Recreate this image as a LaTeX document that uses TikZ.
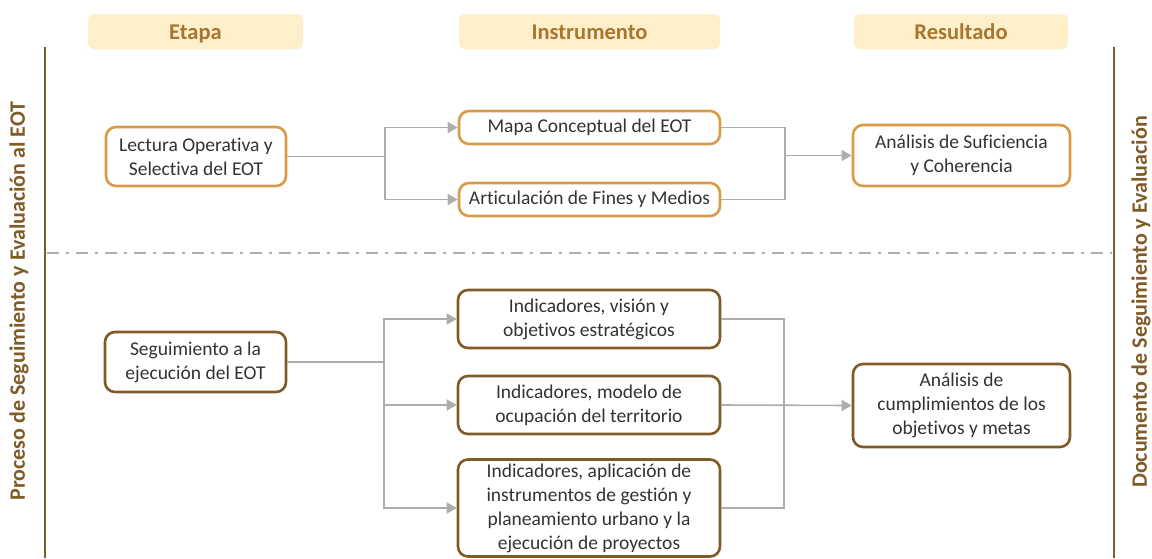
\documentclass[tikz,border=0pt]{standalone}
\usepackage{fontspec}
\setmainfont{Carlito}[Ligatures=NoCommon]
\usetikzlibrary{arrows.meta}
\definecolor{hdrfill}{HTML}{FCEFC9}
\definecolor{hdrtext}{HTML}{A8762E}
\definecolor{orangeb}{HTML}{D99B48}
\definecolor{brownb}{HTML}{7F5B27}
\definecolor{linegray}{HTML}{ADADAD}
\definecolor{txt}{HTML}{333333}
\tikzset{
  hdr/.style={fill=hdrfill, rounded corners=6pt, text=hdrtext, font=\fontsize{22.5}{26}\selectfont\bfseries, inner sep=0pt, minimum height=35pt, text height=17pt, text depth=2pt},
  obox/.style={draw=orangeb, line width=2.6pt, rounded corners=10pt, fill=white, text=txt, align=center, font=\fontsize{19.5}{24}\selectfont, inner sep=0pt},
  bbox/.style={obox, draw=brownb},
  conn/.style={draw=linegray, line width=1.6pt},
  arr/.style={conn, -{Triangle[length=10pt,width=11pt]}},
  side/.style={text=brownb, font=\fontsize{22}{26}\selectfont\bfseries},
  sep/.style={draw=linegray, line width=2.4pt, dash pattern=on 12pt off 7pt on 3pt off 7pt}
}
\begin{document}
\begin{tikzpicture}[x=1pt,y=-1pt]
\useasboundingbox (0,0) rectangle (1152,558);
% headers
\node[hdr, minimum width=215pt] (h1) at (195.5,31.5) {Etapa};
\node[hdr, minimum width=261pt] (h2) at (589.5,31.5) {Instrumento};
\node[hdr, minimum width=214pt] (h3) at (961,31.5) {Resultado};
% side lines
\coordinate (lt) at (45,47); \coordinate (lb) at (45,558);
\coordinate (rt) at (1114,47); \coordinate (rb) at (1114,558);
\draw[brownb, line width=1.6pt] (lt) -- (lb);
\draw[brownb, line width=1.6pt] (rt) -- (rb);
\node[side, rotate=90] (pl) at (19,301) {Proceso de Seguimiento y Evaluación al EOT};
\node[side, rotate=90] (pr) at (1141,302) {Documento de Seguimiento y Evaluación};
% separator
\coordinate (s1) at (47,253); \coordinate (s2) at (1112,253);
\draw[sep] (s1) -- (s2);
% top section
\node[obox, minimum width=180pt, minimum height=59pt] (lect) at (196,156.5) {Lectura Operativa y\\Selectiva del EOT};
\node[obox, minimum width=261pt, minimum height=33pt] (mapa) at (589.5,127.5) {Mapa Conceptual del EOT};
\node[obox, minimum width=261pt, minimum height=33pt] (arti) at (589.5,199.5) {Articulación de Fines y Medios};
\node[obox, minimum width=217pt, minimum height=61pt] (ansc) at (961.5,155.5) {Análisis de Suficiencia\\y Coherencia};
\coordinate (j1) at (385,156.5);
\coordinate (j2) at (785,155.5);
\draw[conn] (lect.east) -- (j1);
\draw[arr] (j1) |- (mapa.west);
\draw[arr] (j1) |- (arti.west);
\draw[conn] (mapa.east) -| (j2);
\draw[conn] (arti.east) -| (j2);
\draw[arr] (j2) -- (ansc.west);
% bottom section
\node[bbox, minimum width=181pt, minimum height=60pt] (segu) at (195.5,362) {Seguimiento a la\\ejecución del EOT};
\node[bbox, minimum width=262pt, minimum height=58pt] (indv) at (589,319) {Indicadores, visión y\\objetivos estratégicos};
\node[bbox, minimum width=262pt, minimum height=58pt] (indm) at (589,405) {Indicadores, modelo de\\ocupación del territorio};
\node[bbox, minimum width=262pt, minimum height=97pt] (inda) at (589,508) {Indicadores, aplicación de\\instrumentos de gestión y\\planeamiento urbano y la\\ejecución de proyectos};
\node[bbox, minimum width=217pt, minimum height=83pt] (ancu) at (961.5,405.5) {Análisis de\\cumplimientos de los\\objetivos y metas};
\coordinate (j3) at (384,362);
\coordinate (j4) at (784,405);
\draw[conn] (segu.east) -- (j3);
\draw[arr] (j3) |- (indv.west);
\draw[arr] (j3) |- (indm.west);
\draw[arr] (j3) |- (inda.west);
\draw[conn] (indv.east) -| (j4);
\draw[conn] (inda.east) -| (j4);
\draw[arr] (indm.east) -- (ancu.west);
\end{tikzpicture}
\end{document}
